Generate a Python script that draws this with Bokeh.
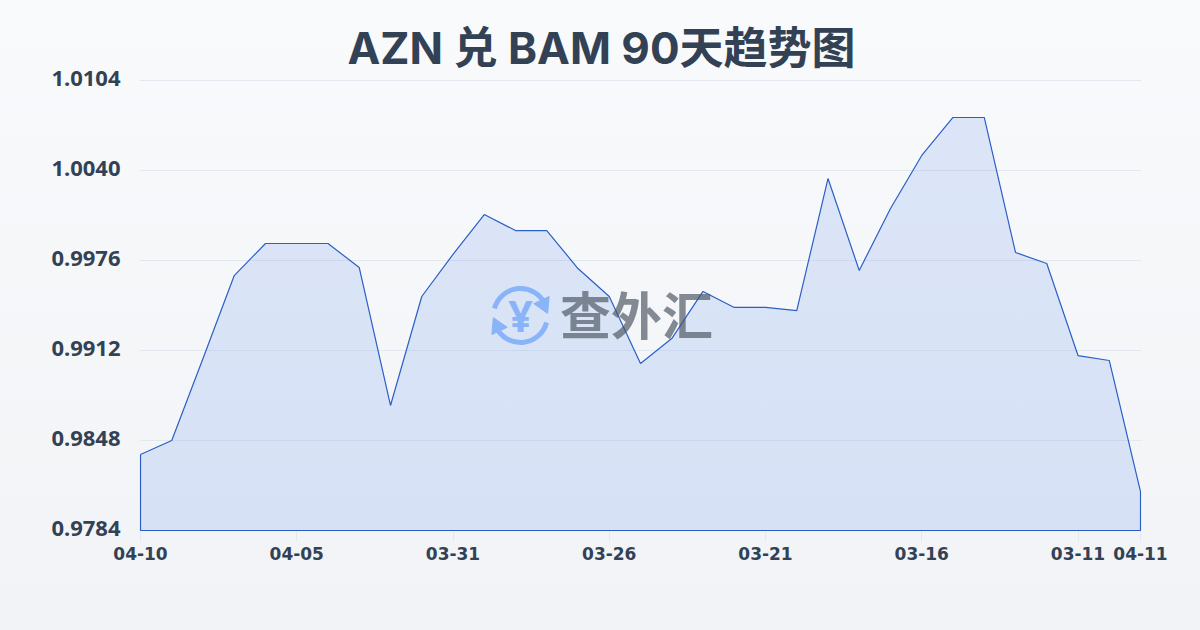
from bokeh.embed import file_html
from bokeh.resources import INLINE
from bokeh.plotting import figure
from bokeh.models import FixedTicker, Label, Range1d
import math

dates = ["04-10","04-09","04-08","04-07","04-06","04-05","04-04","04-03","04-02","04-01","03-31",
         "03-30","03-29","03-28","03-27","03-26","03-25","03-24","03-23","03-22","03-21",
         "03-20","03-19","03-18","03-17","03-16","03-15","03-14","03-13","03-12","03-11","03-10","04-11"]
rates = [0.98380,0.98480,0.99063,0.99653,0.99881,0.99881,0.99881,0.99710,0.98729,0.99504,0.99803,
         1.00087,0.99973,0.99973,0.99703,0.99504,0.99028,0.99205,0.99540,0.99426,0.99426,
         0.99404,1.00343,0.99689,1.00130,1.00507,1.00777,1.00777,0.99817,0.99739,0.99084,0.99049,0.98117]
y_ticks = [0.9784,0.9848,0.9912,0.9976,1.0040,1.0104]
x_tick_idx = [0,5,10,15,20,25,30,32]
title = "AZN 兑 BAM 90天趋势图"
watermark = "查外汇"

X0, X1 = 140.0, 1140.0
Y0, Y1 = 530.0, 80.0
LEFT, BOTTOM = 139, 531
def dx(px): return (px-X0)/(X1-X0)*(len(dates)-1)
def dy(py): return y_ticks[0]+(Y0-py)/(Y0-Y1)*(y_ticks[-1]-y_ticks[0])

p = figure(width=1200, height=630, output_backend="svg", toolbar_location=None,
           x_range=Range1d(dx(LEFT),dx(1141)), y_range=Range1d(dy(BOTTOM),dy(76)),
           min_border_left=LEFT, min_border_right=59, min_border_top=76, min_border_bottom=630-BOTTOM,
           background_fill_color=None, border_fill_color=None, outline_line_color=None)

TEXT = "#334155"
p.title.text = title
p.title.align = "left"
p.title.offset = 347 - LEFT
p.title.standoff = 3
p.title.text_font = "Inter, 'Noto Sans CJK SC'"
p.title.text_font_style = "bold"
p.title.text_font_size = "44px"
p.title.text_color = TEXT

LABEL_LIFT = 2 * (y_ticks[-1]-y_ticks[0]) / (Y0-Y1)   # labels sit 2px above their gridlines
label_pos = [t + LABEL_LIFT for t in y_ticks]
p.xgrid.visible = False
p.ygrid.ticker = FixedTicker(ticks=y_ticks)
p.ygrid.grid_line_color = "#e2e8f0"
p.ygrid.grid_line_width = 1
p.yaxis.ticker = FixedTicker(ticks=label_pos)
p.yaxis.major_label_overrides = {q: f"{t:.4f}" for q, t in zip(label_pos, y_ticks)}
p.xaxis.ticker = FixedTicker(ticks=x_tick_idx)
p.xaxis.major_label_overrides = {i: dates[i] for i in x_tick_idx}
for ax in (p.xaxis, p.yaxis):
    ax.axis_line_color = None
    ax.minor_tick_line_color = None
    ax.major_label_text_color = TEXT
    ax.major_label_text_font_style = "bold"
p.yaxis.major_tick_line_color = None
p.yaxis.major_label_text_font = "Noto Sans"
p.yaxis.major_label_text_font_size = "22px"
p.yaxis.major_label_standoff = 13
p.xaxis.major_label_text_font = "DejaVu Sans"
p.xaxis.major_tick_line_color = "#e2e8f0"
p.xaxis.major_tick_in = 0
p.xaxis.major_tick_out = 10
p.xaxis.major_label_text_font_size = "17px"
p.xaxis.major_label_standoff = 5

idx = list(range(len(dates)))
xs = idx + [idx[-1], idx[0]]
ys = rates + [y_ticks[0], y_ticks[0]]
p.patch(xs, ys, fill_color="#2563eb", fill_alpha=0.13, line_color=None)

# watermark icon
ICON = "#8ab4f8"
cx, cy = dx(520), dy(315)
p.arc(x=[cx], y=[cy], radius=27, radius_units="screen",
      start_angle=math.radians(25), end_angle=math.radians(165), line_color=ICON, line_width=5)
p.arc(x=[cx], y=[cy], radius=27, radius_units="screen",
      start_angle=math.radians(205), end_angle=math.radians(345), line_color=ICON, line_width=5)
p.scatter(x=[dx(543)], y=[dy(304)], marker="triangle", size=17, angle=math.radians(-35), color=ICON)
p.scatter(x=[dx(497)], y=[dy(326)], marker="triangle", size=17, angle=math.radians(145), color=ICON)
p.add_layout(Label(x=cx, y=cy, text="¥", text_font="Noto Sans", text_font_style="bold", text_font_size="43px",
                   text_color=ICON, text_align="center", text_baseline="middle", level="glyph"))
p.add_layout(Label(x=dx(636), y=dy(312), text=watermark, text_font="Noto Sans CJK SC", text_font_style="bold",
                   text_font_size="51px", text_color="#4b5563", text_alpha=0.68, text_align="center",
                   text_baseline="middle", level="glyph"))

p.line(xs+[xs[0]], ys+[ys[0]], line_color="#2b5fc7", line_width=1.2)

style = """<style>body{background:linear-gradient(180deg,#f8fafc 0%,#f1f3f6 100%) no-repeat;background-size:1200px 630px;overflow:hidden}</style>"""
html = file_html(p, INLINE).replace("</head>", style + "</head>", 1)
open("out.html","w").write(html)
